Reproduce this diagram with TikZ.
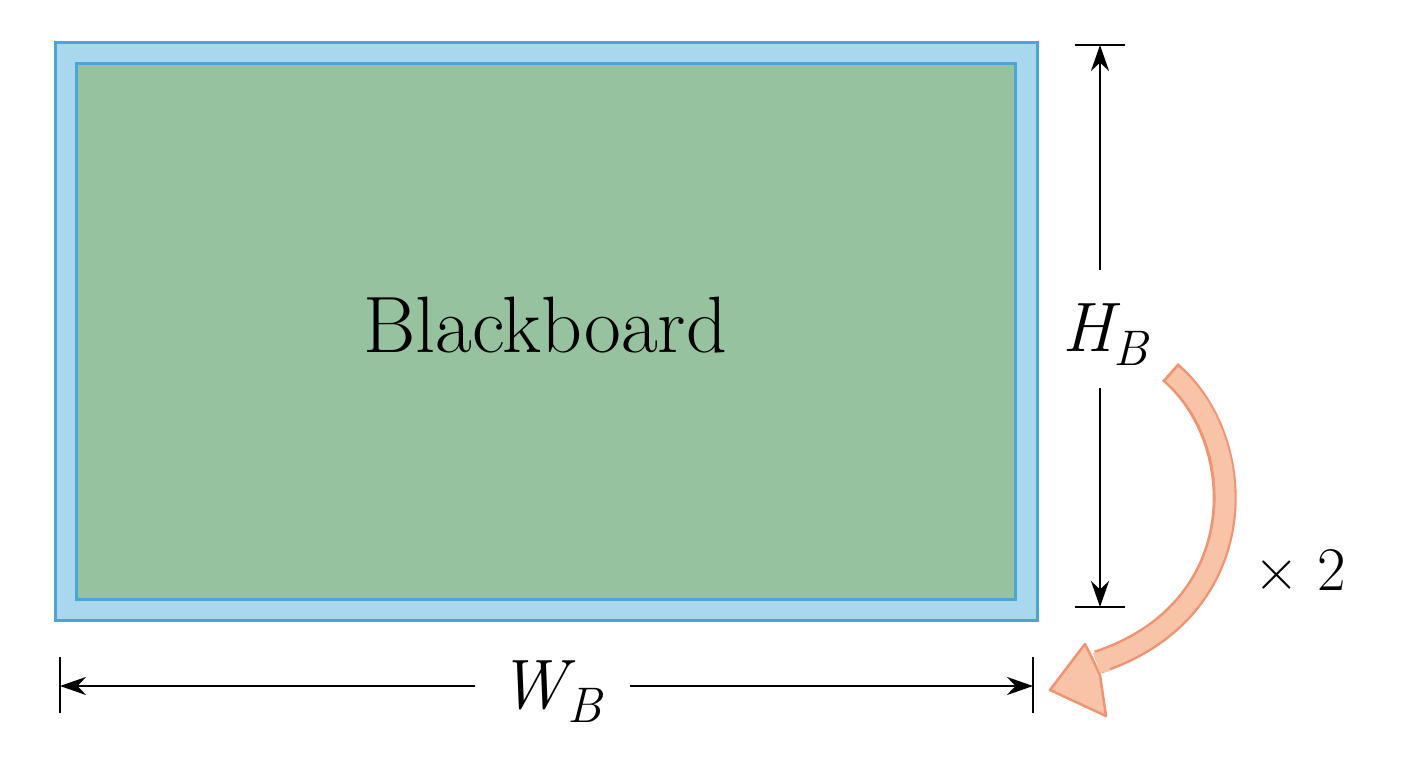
\documentclass[tikz,border=0pt]{standalone}
\usepackage{tikz}
\usetikzlibrary{arrows.meta}
\definecolor{bfill}{HTML}{A9D8EE}
\definecolor{bline}{HTML}{4AA6D6}
\definecolor{gfill}{HTML}{96C2A0}
\definecolor{ofill}{HTML}{F9C3A8}
\definecolor{oline}{HTML}{EF9472}
\tikzset{dim/.style={line width=2.8pt,-{Stealth[length=26pt,width=18pt]}},tick/.style={line width=2.8pt}}
\newcommand{\subl}[2]{{\fontsize{70}{80}\selectfont\itshape #1}\raisebox{-14pt}{\fontsize{50}{55}\selectfont\itshape #2}}
\begin{document}
\begin{tikzpicture}[x=1pt,y=-1pt]
\useasboundingbox (0,0) rectangle (1408,768);
\fill[white] (0,0) rectangle (1408,768);
\draw[bline,fill=bfill,line width=3pt] (55,43) rectangle (1037,620);
\draw[bline,fill=gfill,line width=3pt] (76,64) rectangle (1015,599);
\node (bb) at (545,325) {\fontsize{80}{90}\selectfont Blackboard};
% vertical dimension
\coordinate (ht) at (1100,45); \coordinate (hb) at (1100,607);
\draw[tick] (1075,45) -- (1125,45); \draw[tick] (1075,607) -- (1125,607);
\node (hl) at (1105,335) {\subl{H}{B}};
\coordinate (h1) at (1100,270); \coordinate (h2) at (1100,388);
\draw[dim] (h1) -- (ht); \draw[dim] (h2) -- (hb);
% horizontal dimension
\coordinate (wl) at (60,686); \coordinate (wr) at (1033,686);
\draw[tick] (60,657) -- (60,713); \draw[tick] (1033,657) -- (1033,713);
\node (wlab) at (550,692) {\subl{W}{B}};
\coordinate (w1) at (475,686); \coordinate (w2) at (630,686);
\draw[dim] (w1) -- (wl); \draw[dim] (w2) -- (wr);
% orange arrow
\draw[oline,line width=24pt] (1170,372) .. controls (1250,440) and (1255,610) .. (1098,662);
\draw[ofill,line width=19pt] (1172,374) .. controls (1250,440) and (1255,610) .. (1098,662);
\draw[oline,fill=ofill,line width=2.5pt,line join=round] (1050,690) -- (1085,644) -- (1092,658) -- (1100,675) -- (1106,716) -- cycle;
\fill[ofill] (1093,653) -- (1106,651) -- (1110,671) -- (1100,673) -- cycle;
\node (x2) at (1300,570) {\fontsize{62}{70}\selectfont × 2};
\end{tikzpicture}
\end{document}
